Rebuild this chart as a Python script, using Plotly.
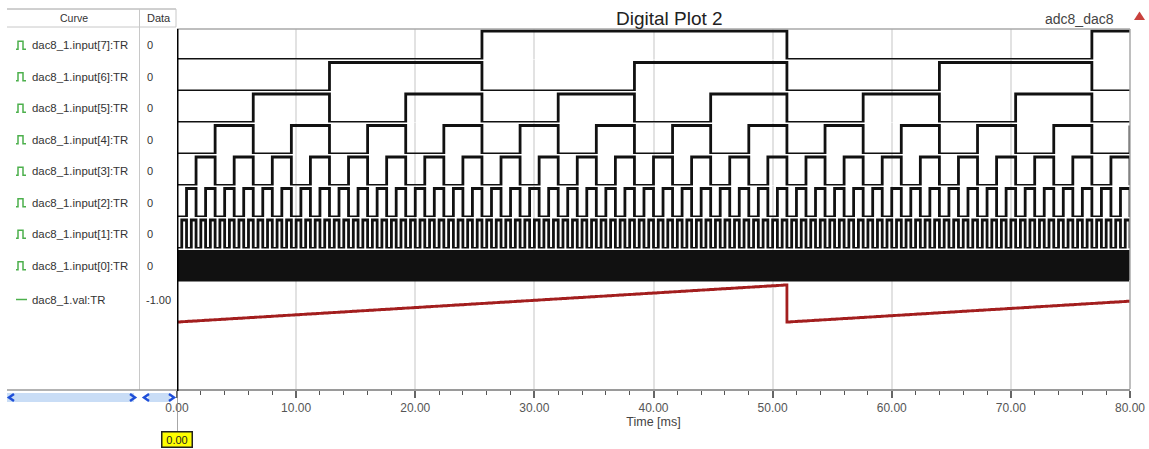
import numpy as np
import plotly.graph_objects as go

# ---------------- data ----------------
curve_names = [
    "dac8_1.input[7]:TR", "dac8_1.input[6]:TR", "dac8_1.input[5]:TR",
    "dac8_1.input[4]:TR", "dac8_1.input[3]:TR", "dac8_1.input[2]:TR",
    "dac8_1.input[1]:TR", "dac8_1.input[0]:TR",
]
val_name = "dac8_1.val:TR"
data_column = ["0", "0", "0", "0", "0", "0", "0", "0"]
val_data_text = "-1.00"
bit_index = [7, 6, 5, 4, 3, 2, 1, 0]          # bit shown in each row
counter_clock_ms = 0.2                        # input[0] toggles every 0.2 ms
counter_modulus = 256                         # 8-bit counter wraps at 51.2 ms
time_end_ms = 80.0
val_at_zero = -1.00                           # DAC output at count 0
val_lsb = 2.0 / 256                           # DAC step per count
x_tick_vals = [0, 10, 20, 30, 40, 50, 60, 70, 80]
x_tick_text = ["0.00", "10.00", "20.00", "30.00", "40.00",
               "50.00", "60.00", "70.00", "80.00"]
cursor_ms = 0.0
cursor_text = "0.00"

# counter samples (one per clock)
n_clk = int(round(time_end_ms / counter_clock_ms))
t_ms = np.arange(n_clk + 1) * counter_clock_ms
counts = np.arange(n_clk + 1) % counter_modulus
val = val_at_zero + counts * val_lsb

# ---------------- layout geometry (pixels) ----------------
W, H = 1149, 449
L, R, T, B = 177, 1130, 29, 389


def fx(px):
    return (px - L) / (R - L)


def fy(py):
    return (B - py) / (B - T)


row_high = [31 + 31.5 * i for i in range(8)]
row_low = [59.5 + 31.5 * i for i in range(8)]
pad = 3.0

FONT = "Liberation Sans, Arial, sans-serif"
fig = go.Figure()

# val trace on the main axis (full height, holds the grid)
v_px_zero = 322.0
v_px_full = 285.0
v_full = val_at_zero + (counter_modulus - 1) * val_lsb
ppu = (v_px_zero - v_px_full) / (v_full - val_at_zero)
y_bot = val_at_zero - (B - v_px_zero) / ppu
y_top = val_at_zero + (v_px_zero - T) / ppu
fig.add_trace(go.Scatter(x=t_ms, y=val, mode="lines", line_shape="hv",
                         line=dict(color="#a31e1e", width=2.8),
                         xaxis="x", yaxis="y", showlegend=False, hoverinfo="skip"))

layout_axes = {}
for i, b in enumerate(bit_index):
    lvl = (counts >> b) & 1
    ax = i + 2
    fig.add_trace(go.Scatter(x=t_ms, y=lvl, mode="lines", line_shape="hv",
                             line=dict(color="#111111", width=2.8),
                             xaxis="x", yaxis=f"y{ax}", showlegend=False,
                             hoverinfo="skip"))
    sw = row_low[i] - row_high[i]
    pb = min(B, row_low[i] + pad)
    pt = max(T, row_high[i] - pad)
    layout_axes[f"yaxis{ax}"] = dict(
        domain=[fy(pb), fy(pt)],
        range=[-(pb - row_low[i]) / sw, 1 + (row_high[i] - pt) / sw],
        visible=False, anchor="x", fixedrange=True)

shapes = []
ann = []


def text(xp, yp, s, size, color="#333", xa="left", **kw):
    ann.append(dict(xref="paper", yref="paper", x=fx(xp), y=fy(yp), text=s,
                    xanchor=xa, yanchor="middle", showarrow=False,
                    font=dict(family=FONT, size=size, color=color), **kw))


# plot border (top / right)
shapes.append(dict(type="line", xref="paper", yref="paper", x0=0, x1=1, y0=1, y1=1,
                   line=dict(color="#a8a8a8", width=1.5)))
shapes.append(dict(type="line", xref="paper", yref="paper", x0=1, x1=1, y0=0, y1=1,
                   line=dict(color="#a8a8a8", width=1.5)))

# cursor
shapes.append(dict(type="line", xref="x", yref="paper", x0=cursor_ms, x1=cursor_ms,
                   y0=fy(432), y1=fy(390), line=dict(color="#8a8a8a", width=1.5),
                   layer="above"))
shapes.append(dict(type="line", xref="x", yref="paper", x0=cursor_ms, x1=cursor_ms,
                   y0=fy(391), y1=1, line=dict(color="#000000", width=3),
                   layer="above"))
ann.append(dict(xref="x", yref="paper", x=cursor_ms, y=fy(439.5), text=cursor_text,
                xanchor="center", yanchor="middle", width=27, height=12,
                showarrow=False, bgcolor="#ffff00", bordercolor="#222", borderwidth=1.5,
                borderpad=1, font=dict(family=FONT, size=11, color="#222")))

# title and source name
text(669, 18, "Digital Plot 2", 19, color="#222", xa="center")
text(1116, 19, "adc8_dac8", 14, color="#444", xa="right")
shapes.append(dict(type="path", xref="paper", yref="paper",
                   path=f"M{fx(1134)},{fy(20)} L{fx(1139.5)},{fy(11.5)} L{fx(1145)},{fy(20)} Z",
                   fillcolor="#c9413d", line=dict(width=0)))

# left table: header
grey = "#c8c8c8"
shapes.append(dict(type="line", xref="paper", yref="paper", x0=fx(7), x1=fx(176),
                   y0=fy(9), y1=fy(9), line=dict(color="#a0a0a0", width=1)))
shapes.append(dict(type="line", xref="paper", yref="paper", x0=fx(7), x1=fx(176),
                   y0=fy(27), y1=fy(27), line=dict(color=grey, width=1)))
shapes.append(dict(type="line", xref="paper", yref="paper", x0=fx(139.5), x1=fx(139.5),
                   y0=fy(390), y1=fy(9), line=dict(color=grey, width=1)))
shapes.append(dict(type="line", xref="paper", yref="paper", x0=fx(176), x1=fx(176),
                   y0=fy(27), y1=fy(9), line=dict(color=grey, width=1)))
shapes.append(dict(type="line", xref="paper", yref="paper", x0=fx(7), x1=fx(177),
                   y0=fy(390), y1=fy(390), line=dict(color="#9a9a9a", width=1.5)))
text(74, 18, "Curve", 10.5, xa="center")
text(159, 18, "Data", 11, xa="center")

green = "#4cb04c"
for i, name in enumerate(curve_names):
    yc = (row_high[i] + row_low[i]) / 2
    p = (f"M{fx(16)},{fy(yc + 4)} L{fx(18)},{fy(yc + 4)} L{fx(18)},{fy(yc - 4)} "
         f"L{fx(23)},{fy(yc - 4)} L{fx(23)},{fy(yc + 4)} L{fx(26)},{fy(yc + 4)}")
    shapes.append(dict(type="path", xref="paper", yref="paper", path=p,
                       line=dict(color=green, width=1.5)))
    text(30, yc, name, 11.4)
    text(145, yc, data_column[i], 11)
yv = 299.5
shapes.append(dict(type="line", xref="paper", yref="paper", x0=fx(16), x1=fx(27),
                   y0=fy(yv), y1=fy(yv), line=dict(color=green, width=1.5)))
text(30, yv, val_name, 11.4)
text(144, yv, val_data_text, 11)

# scroll bars
for x0, x1 in [(7, 134), (148, 170)]:
    shapes.append(dict(type="rect", xref="paper", yref="paper", x0=fx(x0), x1=fx(x1),
                       y0=fy(402), y1=fy(393), fillcolor="#c9ddf6", line=dict(width=0)))
blue = "#1f4fd8"
for xa, d in [(9, -1), (130, 1), (144, -1), (169, 1)]:
    if d < 0:
        p = f"M{fx(xa + 5)},{fy(394)} L{fx(xa)},{fy(397.5)} L{fx(xa + 5)},{fy(401)}"
    else:
        p = f"M{fx(xa)},{fy(394)} L{fx(xa + 5)},{fy(397.5)} L{fx(xa)},{fy(401)}"
    shapes.append(dict(type="path", xref="paper", yref="paper", path=p,
                       line=dict(color=blue, width=2.5)))

fig.update_layout(
    width=W, height=H, autosize=False,
    margin=dict(l=L, r=W - R, t=T, b=H - B, pad=0),
    paper_bgcolor="white", plot_bgcolor="white",
    showlegend=False,
    xaxis=dict(range=[0, time_end_ms], domain=[0, 1], anchor="y", automargin=False,
               tickmode="array", tickvals=x_tick_vals, ticktext=x_tick_text,
               showgrid=True, gridcolor="#e2e2e2", gridwidth=1.5, zeroline=False,
               showline=True, linecolor="#9a9a9a", linewidth=1.5,
               ticks="outside", ticklen=7, tickwidth=1.5, tickcolor="#666",
               minor=dict(dtick=2, ticks="outside", ticklen=4, tickwidth=1.2,
                          tickcolor="#555", showgrid=False),
               tickfont=dict(family=FONT, size=12, color="#555"),
               title=dict(text="Time [ms]", standoff=0,
                          font=dict(family=FONT, size=12.5, color="#444")),
               fixedrange=True),
    yaxis=dict(domain=[0, 1], range=[y_bot, y_top], visible=False, fixedrange=True),
    shapes=shapes, annotations=ann,
    **layout_axes,
)

fig.write_html("out.html")
